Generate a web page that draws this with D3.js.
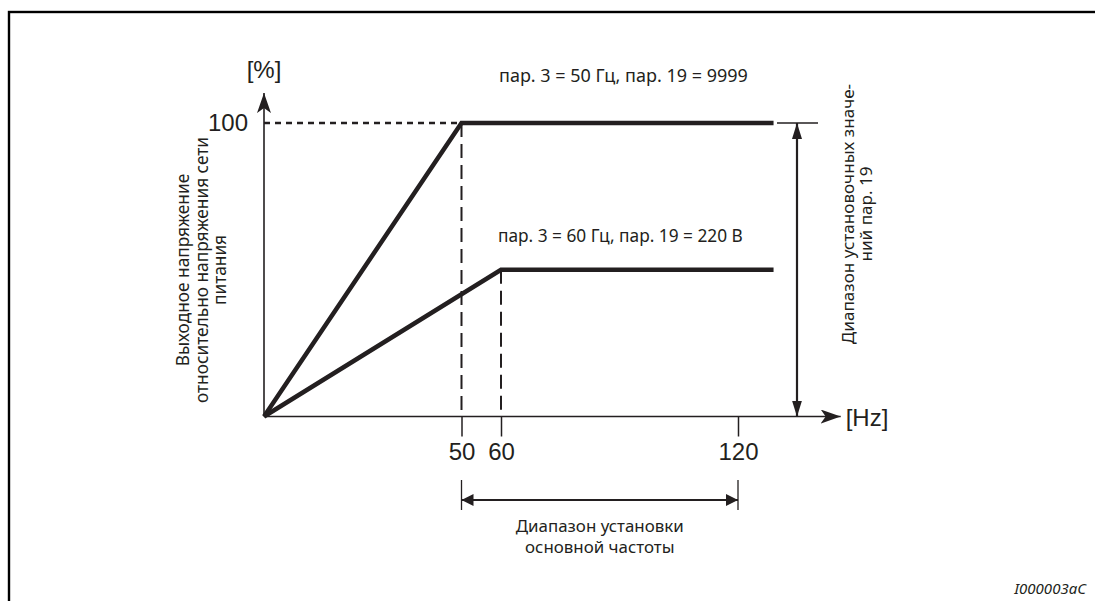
<!DOCTYPE html>
<html><head><meta charset="utf-8">
<script src="https://cdn.jsdelivr.net/npm/d3@7"></script>
<style>
html,body{margin:0;padding:0;background:#fff;}
svg{display:block;}
</style></head>
<body>
<svg id="chart" width="1095" height="601"></svg>
<script>
// ---- data ----
const freqA = [0, 50, 129];      // пар. 3 = 50 Гц
const voltA = [0, 100, 100];
const freqB = [0, 60, 129];      // пар. 3 = 60 Гц
const voltB = [0, 50, 50];
const xTickValues = [50, 60, 120];
const yTickValues = [100];
const labelA = "пар. 3 = 50 Гц, пар. 19 = 9999";
const labelB = "пар. 3 = 60 Гц, пар. 19 = 220 В";
const yTitle = ["Выходное напряжение", "относительно напряжения сети", "питания"];
const rightTitle = ["Диапазон установочных значе-", "ний пар. 19"];
const bottomTitle = ["Диапазон установки", "основной частоты"];
const xUnit = "[Hz]";
const yUnit = "[%]";
const figId = "I000003aC";
const baseRange = [50, 120];

const ink = "#231f20";
const axisFont = "'Liberation Sans', Arial, sans-serif";
const noteFont = "'Noto Sans', 'Open Sans', sans-serif";

const svg = d3.select("#chart");
const x = d3.scaleLinear().domain([0, 120]).range([264, 738]);
const y = d3.scaleLinear().domain([0, 100]).range([416.5, 123]);

// frame
svg.append("rect").attr("x", 9).attr("y", 12).attr("width", 1120).attr("height", 620)
  .attr("fill", "none").attr("stroke", "#000").attr("stroke-width", 2.4);

const defs = svg.append("defs");
defs.append("marker").attr("id", "arr").attr("viewBox", "0 0 20 14")
  .attr("refX", 20).attr("refY", 7).attr("markerWidth", 20).attr("markerHeight", 14)
  .attr("markerUnits", "userSpaceOnUse").attr("orient", "auto-start-reverse")
  .append("path").attr("d", "M0,0 L20,7 L0,14 L5,7 Z").attr("fill", ink);
defs.append("marker").attr("id", "arr2").attr("viewBox", "0 0 12 16")
  .attr("refX", 12).attr("refY", 8).attr("markerWidth", 12).attr("markerHeight", 16)
  .attr("markerUnits", "userSpaceOnUse").attr("orient", "auto-start-reverse")
  .append("path").attr("d", "M0,2 L12,8 L0,14 Z").attr("fill", ink);
defs.append("marker").attr("id", "arr3").attr("viewBox", "0 0 16 12")
  .attr("refX", 16).attr("refY", 6).attr("markerWidth", 16).attr("markerHeight", 12)
  .attr("markerUnits", "userSpaceOnUse").attr("orient", "auto-start-reverse")
  .append("path").attr("d", "M0,1 L16,6 L0,11 Z").attr("fill", ink);

// x axis (ticks below)
const xAxis = d3.axisBottom(x).tickValues(xTickValues).tickSize(20).tickPadding(5)
  .tickFormat(d3.format("d"));
const gx = svg.append("g").attr("transform", `translate(0,${y(0)})`).call(xAxis);
gx.select(".domain").remove();
gx.selectAll(".tick line").attr("stroke", ink).attr("stroke-width", 1.5);
gx.selectAll(".tick text").attr("font-family", axisFont).attr("font-size", 24)
  .attr("fill", ink).attr("dy", "0.75em");

// y axis labels
const yAxis = d3.axisLeft(y).tickValues(yTickValues).tickSize(0).tickPadding(16);
const gy = svg.append("g").attr("transform", `translate(${x(0)},0)`).call(yAxis);
gy.select(".domain").remove();
gy.selectAll(".tick text").attr("font-family", axisFont).attr("font-size", 24)
  .attr("fill", ink).attr("dy", "0.3em");

// axis lines with arrows
svg.append("line").attr("x1", x(0)).attr("y1", y(0)).attr("x2", x(146)).attr("y2", y(0))
  .attr("stroke", ink).attr("stroke-width", 1.6).attr("marker-end", "url(#arr)");
svg.append("line").attr("x1", x(0)).attr("y1", y(0)).attr("x2", x(0)).attr("y2", y(110.2))
  .attr("stroke", ink).attr("stroke-width", 1.6).attr("marker-end", "url(#arr)");

// units
svg.append("text").attr("x", x(0)).attr("y", 78).attr("text-anchor", "middle")
  .attr("font-family", axisFont).attr("font-size", 24).attr("fill", ink).text(yUnit);
svg.append("text").attr("x", x(146) + 5).attr("y", y(0) + 9).attr("text-anchor", "start")
  .attr("font-family", axisFont).attr("font-size", 24).attr("fill", ink).text(xUnit);

// reference dashed lines
svg.append("line").attr("x1", x(0)).attr("y1", y(100)).attr("x2", x(50)).attr("y2", y(100))
  .attr("stroke", ink).attr("stroke-width", 2.4).attr("stroke-dasharray", "6,5");
svg.append("line").attr("x1", x(50)).attr("y1", y(100)).attr("x2", x(50)).attr("y2", y(0))
  .attr("stroke", ink).attr("stroke-width", 2).attr("stroke-dasharray", "14,7");
svg.append("line").attr("x1", x(60)).attr("y1", y(50)).attr("x2", x(60)).attr("y2", y(0))
  .attr("stroke", ink).attr("stroke-width", 2).attr("stroke-dasharray", "14,7");

// characteristic lines
const line = d3.line().x(d => x(d[0])).y(d => y(d[1]));
[[freqA, voltA], [freqB, voltB]].forEach(([f, v]) => {
  svg.append("path").datum(f.map((fi, i) => [fi, v[i]])).attr("d", line)
    .attr("fill", "none").attr("stroke", ink).attr("stroke-width", 4.5)
    .attr("stroke-linejoin", "miter");
});

// curve labels
svg.append("text").attr("x", 499).attr("y", 82).attr("font-family", noteFont)
  .attr("font-size", 18).attr("fill", ink).text(labelA);
svg.append("text").attr("x", 498).attr("y", 242).attr("font-family", noteFont)
  .attr("font-size", 17.3).attr("fill", ink).text(labelB);

// right range arrow
const rx = 797;
svg.append("line").attr("x1", rx - 20).attr("x2", rx + 21).attr("y1", y(100)).attr("y2", y(100))
  .attr("stroke", ink).attr("stroke-width", 1.5);
svg.append("line").attr("x1", rx).attr("x2", rx).attr("y1", y(100)).attr("y2", y(0))
  .attr("stroke", ink).attr("stroke-width", 2.2)
  .attr("marker-start", "url(#arr3)").attr("marker-end", "url(#arr3)");

// right rotated text
const rt = svg.append("text").attr("transform", `translate(848,214) rotate(-90)`)
  .attr("text-anchor", "middle").attr("font-family", noteFont).attr("font-size", 17.1).attr("fill", ink);
rightTitle.forEach((t, i) => rt.append("tspan").attr("x", 0).attr("dy", i === 0 ? "0.35em" : "1.06em").text(t));

// left rotated title
const lt = svg.append("text").attr("transform", `translate(183,270) rotate(-90)`)
  .attr("text-anchor", "middle").attr("font-family", noteFont).attr("font-size", 17.3).attr("fill", ink);
yTitle.forEach((t, i) => lt.append("tspan").attr("x", 0).attr("dy", i === 0 ? "0.35em" : "1.07em").text(t));

// bottom bracket
baseRange.forEach(v => {
  svg.append("line").attr("x1", x(v)).attr("x2", x(v)).attr("y1", 480).attr("y2", 510)
    .attr("stroke", ink).attr("stroke-width", 1.3);
});
svg.append("line").attr("x1", x(baseRange[0])).attr("x2", x(baseRange[1])).attr("y1", 500).attr("y2", 500)
  .attr("stroke", ink).attr("stroke-width", 2.2)
  .attr("marker-start", "url(#arr2)").attr("marker-end", "url(#arr2)");
const cx = (x(baseRange[0]) + x(baseRange[1])) / 2;
const bt = svg.append("text").attr("x", cx).attr("y", 532)
  .attr("text-anchor", "middle").attr("font-family", noteFont).attr("font-size", 16.9).attr("fill", ink);
bottomTitle.forEach((t, i) => bt.append("tspan").attr("x", cx)
  .attr("dy", i === 0 ? 0 : "1.25em").text(t));

// figure id
svg.append("text").attr("x", 1086).attr("y", 594).attr("text-anchor", "end")
  .attr("font-family", noteFont).attr("font-style", "italic").attr("font-size", 15).attr("fill", ink).text(figId);
</script>
</body></html>
